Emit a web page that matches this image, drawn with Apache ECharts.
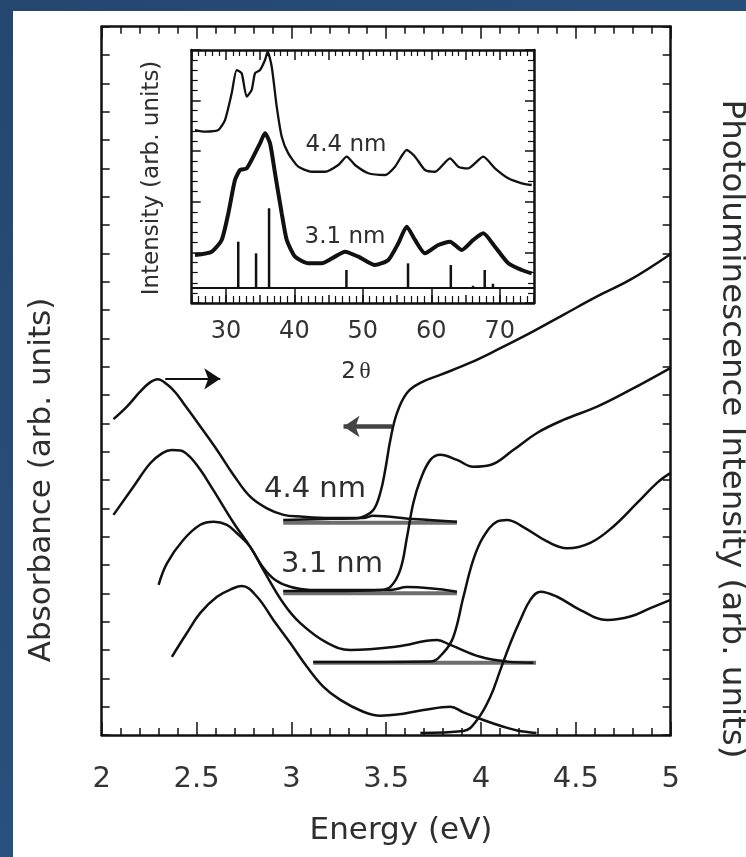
<!DOCTYPE html>
<html>
<head>
<meta charset="utf-8">
<script src="https://cdn.jsdelivr.net/npm/echarts@6.0.0/dist/echarts.min.js"></script>
<style>
html, body { margin: 0; padding: 0; }
#main { width: 746px; height: 857px; }
</style>
</head>
<body>
<div id="main"></div>
<script>
// tick labels
var energyTicks = [2, 2.5, 3, 3.5, 4, 4.5, 5];
var twoThetaTicks = [30, 40, 50, 60, 70];

// photoluminescence (right axis), [energy eV, offset intensity]
var pl44 = [[2.062, 11.15], [2.133, 11.59], [2.2, 12.1], [2.25, 12.42], [2.295, 12.56], [2.344, 12.38], [2.39, 12.08], [2.431, 11.71], [2.52, 10.89], [2.608, 10.06], [2.695, 9.18], [2.783, 8.41], [2.871, 8.0], [2.959, 7.77], [3.047, 7.71], [3.205, 7.66], [3.379, 7.66], [3.432, 7.74], [3.643, 7.62], [3.873, 7.53]];
var pl31 = [[2.062, 7.77], [2.168, 8.77], [2.256, 9.59], [2.32, 9.95], [2.37, 10.06], [2.415, 10.04], [2.46, 9.85], [2.52, 9.36], [2.588, 8.65], [2.695, 7.49], [2.783, 6.64], [2.852, 5.9], [2.915, 5.47], [2.994, 5.23], [3.099, 5.12], [3.205, 5.12], [3.522, 5.12], [3.61, 5.22], [3.873, 5.06]];
var plC = [[2.3, 5.3], [2.344, 6.06], [2.431, 6.89], [2.52, 7.42], [2.59, 7.53], [2.66, 7.42], [2.713, 7.12], [2.783, 6.64], [2.852, 5.83], [2.957, 4.66], [3.047, 3.95], [3.189, 3.25], [3.311, 3.0], [3.557, 3.12], [3.768, 3.35], [3.838, 3.18], [3.996, 2.76], [4.137, 2.59], [4.276, 2.55]];
var plD = [[2.37, 2.76], [2.449, 3.6], [2.52, 4.31], [2.608, 4.88], [2.694, 5.18], [2.739, 5.26], [2.819, 4.88], [2.905, 4.06], [2.994, 3.25], [3.082, 2.41], [3.168, 1.71], [3.258, 1.24], [3.379, 0.82], [3.469, 0.68], [3.557, 0.72], [3.696, 0.88], [3.838, 1.0], [3.907, 0.8], [4.012, 0.53], [4.118, 0.29], [4.19, 0.16], [4.292, 0.07]];

// absorbance (left axis)
var abs44 = [[2.957, 7.59], [3.205, 7.63], [3.337, 7.64], [3.379, 7.71], [3.432, 7.94], [3.469, 8.55], [3.495, 9.36], [3.522, 10.42], [3.557, 11.37], [3.61, 12.08], [3.68, 12.43], [3.785, 12.71], [3.944, 13.14], [4.084, 13.59], [4.26, 14.19], [4.434, 14.83], [4.612, 15.48], [4.787, 16.07], [5.0, 16.98]];
var abs31 = [[2.957, 5.08], [3.205, 5.08], [3.469, 5.12], [3.522, 5.23], [3.574, 5.83], [3.61, 7.0], [3.643, 8.19], [3.68, 9.0], [3.733, 9.71], [3.785, 9.89], [3.873, 9.71], [3.959, 9.47], [4.049, 9.53], [4.17, 10.06], [4.295, 10.66], [4.434, 11.12], [4.612, 11.59], [4.787, 12.18], [5.0, 12.96]];
var absC = [[3.115, 2.58], [3.469, 2.58], [3.733, 2.59], [3.801, 2.9], [3.854, 3.46], [3.907, 4.87], [3.959, 6.18], [4.012, 6.99], [4.084, 7.53], [4.137, 7.59], [4.223, 7.34], [4.348, 6.83], [4.454, 6.59], [4.576, 6.78], [4.698, 7.36], [4.823, 8.19], [4.928, 8.9], [5.0, 9.25]];
var absD = [[3.68, 0.07], [3.907, 0.14], [3.979, 0.53], [4.049, 1.35], [4.102, 2.3], [4.155, 3.25], [4.207, 4.06], [4.26, 4.77], [4.313, 5.06], [4.401, 4.88], [4.524, 4.41], [4.665, 4.06], [4.787, 4.18], [4.893, 4.48], [5.0, 4.77]];

// zero lines of the offset spectra
var base44 = [[2.957, 7.49], [3.873, 7.49]];
var base31 = [[2.957, 5.0], [3.873, 5.0]];
var baseC = [[3.115, 2.55], [4.29, 2.55]];

// arrows telling which axis a set of curves uses
var arrowPL = [[2.335, 12.57], [2.625, 12.57]];
var arrowAbs = [[3.531, 10.89], [3.275, 10.89]];

// inset: XRD, [2 theta, offset intensity]
var xrd44 = [[25.48, 17.09], [26.94, 16.93], [28.89, 17.09], [29.86, 18.08], [30.84, 20.72], [31.57, 23.02], [32.3, 22.7], [33.03, 20.39], [33.76, 21.05], [34.25, 22.7], [34.98, 23.02], [35.71, 24.01], [36.1, 24.83], [36.69, 23.35], [37.42, 19.4], [38.15, 16.43], [39.11, 14.79], [40.57, 13.47], [42.53, 12.97], [44.47, 12.97], [46.41, 13.64], [47.64, 14.46], [48.85, 13.64], [50.8, 12.82], [53.24, 12.65], [54.7, 13.47], [56.41, 15.12], [57.62, 14.46], [59.08, 13.14], [60.54, 12.97], [62.73, 14.3], [63.94, 13.47], [65.4, 13.31], [67.59, 14.46], [69.3, 13.31], [71.25, 12.32], [73.2, 11.83], [74.66, 11.66]];
var xrd31 = [[25.48, 4.74], [27.92, 5.07], [29.38, 6.23], [30.35, 8.86], [31.32, 12.15], [32.06, 13.14], [33.03, 13.31], [34.0, 14.46], [34.98, 15.78], [35.71, 16.77], [36.44, 15.78], [37.17, 12.82], [38.15, 8.86], [38.88, 6.23], [40.09, 4.58], [42.03, 3.92], [43.99, 3.92], [45.93, 4.58], [47.39, 5.07], [49.34, 4.58], [51.78, 3.75], [53.72, 4.25], [55.18, 5.9], [56.41, 7.54], [57.62, 6.23], [59.08, 4.91], [61.02, 5.73], [62.73, 6.06], [64.44, 5.24], [66.13, 6.23], [67.59, 6.89], [69.3, 5.56], [71.25, 3.92], [73.2, 3.26], [74.66, 2.93]];
var stickBase = 1.48;
var sticks = [[31.8, 6.06], [34.4, 4.91], [36.3, 9.36], [47.6, 3.26], [56.6, 3.92], [62.85, 3.75], [66.1, 1.7], [67.8, 3.26], [69.0, 1.9]];
var stickLine = [[25, 1.48], [75, 1.48]];

var ink = '#111';
var font = 'DejaVu Sans';
var myChart = echarts.init(document.getElementById('main'));

function frameAxis(extra) {
	return Object.assign({
		type: 'value',
		splitLine: { show: false },
		axisLine: { show: true, onZero: false, lineStyle: { color: ink, width: 2.5 } },
		axisLabel: { show: false },
		axisTick: { show: true, inside: true, length: 8, lineStyle: { color: ink, width: 1.5 } }
	}, extra);
}

function curve(data, yIdx) {
	return {
		type: 'line', xAxisIndex: 0, yAxisIndex: yIdx, data: data,
		showSymbol: false, symbol: 'none', smooth: 0.4,
		lineStyle: { color: ink, width: 2.5 }, z: 5
	};
}

function baseline(data) {
	return {
		type: 'line', xAxisIndex: 0, yAxisIndex: 0, data: data,
		showSymbol: false, symbol: 'none',
		lineStyle: { color: '#6e6e6e', width: 4 }, z: 3
	};
}

function label(text, x, y, size, rot) {
	return {
		type: 'text', x: x, y: y, rotation: rot || 0, z: 100,
		style: {
			text: text, fill: '#2e2e2e', fontSize: size, fontFamily: font,
			textAlign: 'center', textVerticalAlign: 'middle', align: 'center', verticalAlign: 'middle'
		}
	};
}

var option = {
	animation: false,
	backgroundColor: new echarts.graphic.LinearGradient(0, 0, 1, 1, [
		{ offset: 0, color: '#244770' },
		{ offset: 1, color: '#2c5886' }
	]),
	graphic: [
		{ type: 'rect', z: -100, shape: { x: 13, y: 11, width: 733, height: 846 }, style: { fill: '#fff' } },
		label('Absorbance (arb. units)', 42, 480, 31, Math.PI / 2),
		label('Photoluminescence Intensity (arb. units)', 731, 429, 32.5, -Math.PI / 2),
		label('Energy (eV)', 401, 831, 31),
		label('4.4 nm', 315, 489, 29),
		label('3.1 nm', 332, 564, 29),
		label('Intensity (arb. units)', 152, 178, 23, Math.PI / 2),
		label('4.4 nm', 346, 145, 23),
		label('3.1 nm', 345, 237, 23),
		{
			type: 'text', x: 356, y: 372, z: 100,
			style: {
				text: '{a|2} {b|θ}', align: 'center', verticalAlign: 'middle', textAlign: 'center', textVerticalAlign: 'middle',
				rich: {
					a: { fontSize: 23, fontFamily: font, fill: '#2e2e2e', color: '#2e2e2e' },
					b: { fontSize: 24, fontFamily: 'Liberation Serif', fill: '#2e2e2e', color: '#2e2e2e' }
				}
			}
		}
	],
	grid: [
		{ left: 101.7, top: 26.7, width: 569, height: 708.3, containLabel: false },
		{ left: 191.7, top: 50, width: 342.3, height: 253, containLabel: false }
	],
	xAxis: [
		frameAxis({
			gridIndex: 0, position: 'bottom', min: 2, max: 5, interval: 0.5,
			axisTick: { show: true, inside: true, length: 13, lineStyle: { color: ink, width: 1.5 } },
			minorTick: { show: true, splitNumber: 5, length: 7, lineStyle: { color: ink, width: 1.5 } },
			axisLabel: { show: true, customValues: energyTicks, margin: 30, fontSize: 29, fontFamily: font, color: '#333' }
		}),
		frameAxis({
			gridIndex: 0, position: 'top', min: 2, max: 5, interval: 0.5,
			axisTick: { show: true, inside: true, length: 12, lineStyle: { color: ink, width: 1.5 } },
			minorTick: { show: true, splitNumber: 5, length: 7, lineStyle: { color: ink, width: 1.5 } }
		}),
		frameAxis({
			gridIndex: 1, position: 'bottom', min: 25, max: 75, interval: 5,
			axisTick: { show: true, inside: true, length: 8, lineStyle: { color: ink, width: 1.5 } },
			minorTick: { show: true, splitNumber: 5, length: 7, lineStyle: { color: ink, width: 1.2 } },
			axisLabel: { show: true, customValues: twoThetaTicks, margin: 17, fontSize: 24, fontFamily: font, color: '#333' }
		}),
		frameAxis({
			gridIndex: 1, position: 'top', min: 25, max: 75, interval: 5,
			axisTick: { show: true, inside: true, length: 10, lineStyle: { color: ink, width: 1.5 } },
			minorTick: { show: true, splitNumber: 5, length: 6, lineStyle: { color: ink, width: 1.2 } }
		}),
		frameAxis({
			gridIndex: 1, position: 'bottom', min: 25, max: 75,
			axisLine: { show: false },
			axisTick: { show: true, inside: true, length: 15, customValues: twoThetaTicks, lineStyle: { color: ink, width: 1.5 } }
		})
	],
	yAxis: [
		frameAxis({ gridIndex: 0, position: 'left', min: 0, max: 25, interval: 1 }),
		frameAxis({ gridIndex: 0, position: 'right', min: 0, max: 25, interval: 1 }),
		frameAxis({
			gridIndex: 1, position: 'left', min: 0, max: 25, interval: 5,
			axisTick: { show: true, inside: true, length: 9, lineStyle: { color: ink, width: 1.5 } },
			minorTick: { show: true, splitNumber: 5, length: 6, lineStyle: { color: ink, width: 1.2 } }
		}),
		frameAxis({
			gridIndex: 1, position: 'right', min: 0, max: 25, interval: 5,
			axisTick: { show: true, inside: true, length: 9, lineStyle: { color: ink, width: 1.5 } },
			minorTick: { show: true, splitNumber: 5, length: 6, lineStyle: { color: ink, width: 1.2 } }
		})
	],
	series: [
		baseline(base44),
		baseline(base31),
		baseline(baseC),
		curve(pl44, 1),
		curve(pl31, 1),
		curve(plC, 1),
		curve(plD, 1),
		curve(abs44, 0),
		curve(abs31, 0),
		curve(absC, 0),
		curve(absD, 0),
		{
			type: 'lines', coordinateSystem: 'cartesian2d', xAxisIndex: 0, yAxisIndex: 1,
			symbol: ['none', 'arrow'], symbolSize: [14, 16],
			lineStyle: { color: ink, width: 2.2, opacity: 1 },
			data: [{ coords: arrowPL }]
		},
		{
			type: 'lines', coordinateSystem: 'cartesian2d', xAxisIndex: 0, yAxisIndex: 0,
			symbol: ['none', 'arrow'], symbolSize: [14, 16],
			lineStyle: { color: '#444', width: 4.5, opacity: 1 },
			data: [{ coords: arrowAbs }]
		},
		{
			type: 'line', xAxisIndex: 2, yAxisIndex: 2, data: stickLine,
			showSymbol: false, symbol: 'none', lineStyle: { color: ink, width: 2 }
		},
		{
			type: 'custom', xAxisIndex: 2, yAxisIndex: 2,
			renderItem: function (params, api) {
				var p0 = api.coord([api.value(0), stickBase]);
				var p1 = api.coord([api.value(0), api.value(1)]);
				return {
					type: 'line',
					shape: { x1: p0[0], y1: p0[1], x2: p1[0], y2: p1[1] },
					style: { stroke: ink, lineWidth: 2.5 }
				};
			},
			encode: { x: 0, y: 1 },
			data: sticks
		},
		{
			type: 'line', xAxisIndex: 2, yAxisIndex: 2, data: xrd44,
			showSymbol: false, symbol: 'none', smooth: 0.2,
			lineStyle: { color: ink, width: 2.3 }
		},
		{
			type: 'line', xAxisIndex: 2, yAxisIndex: 2, data: xrd31,
			showSymbol: false, symbol: 'none', smooth: 0.2,
			lineStyle: { color: ink, width: 4 }
		}
	]
};
option && myChart.setOption(option);
</script>
</body>
</html>
